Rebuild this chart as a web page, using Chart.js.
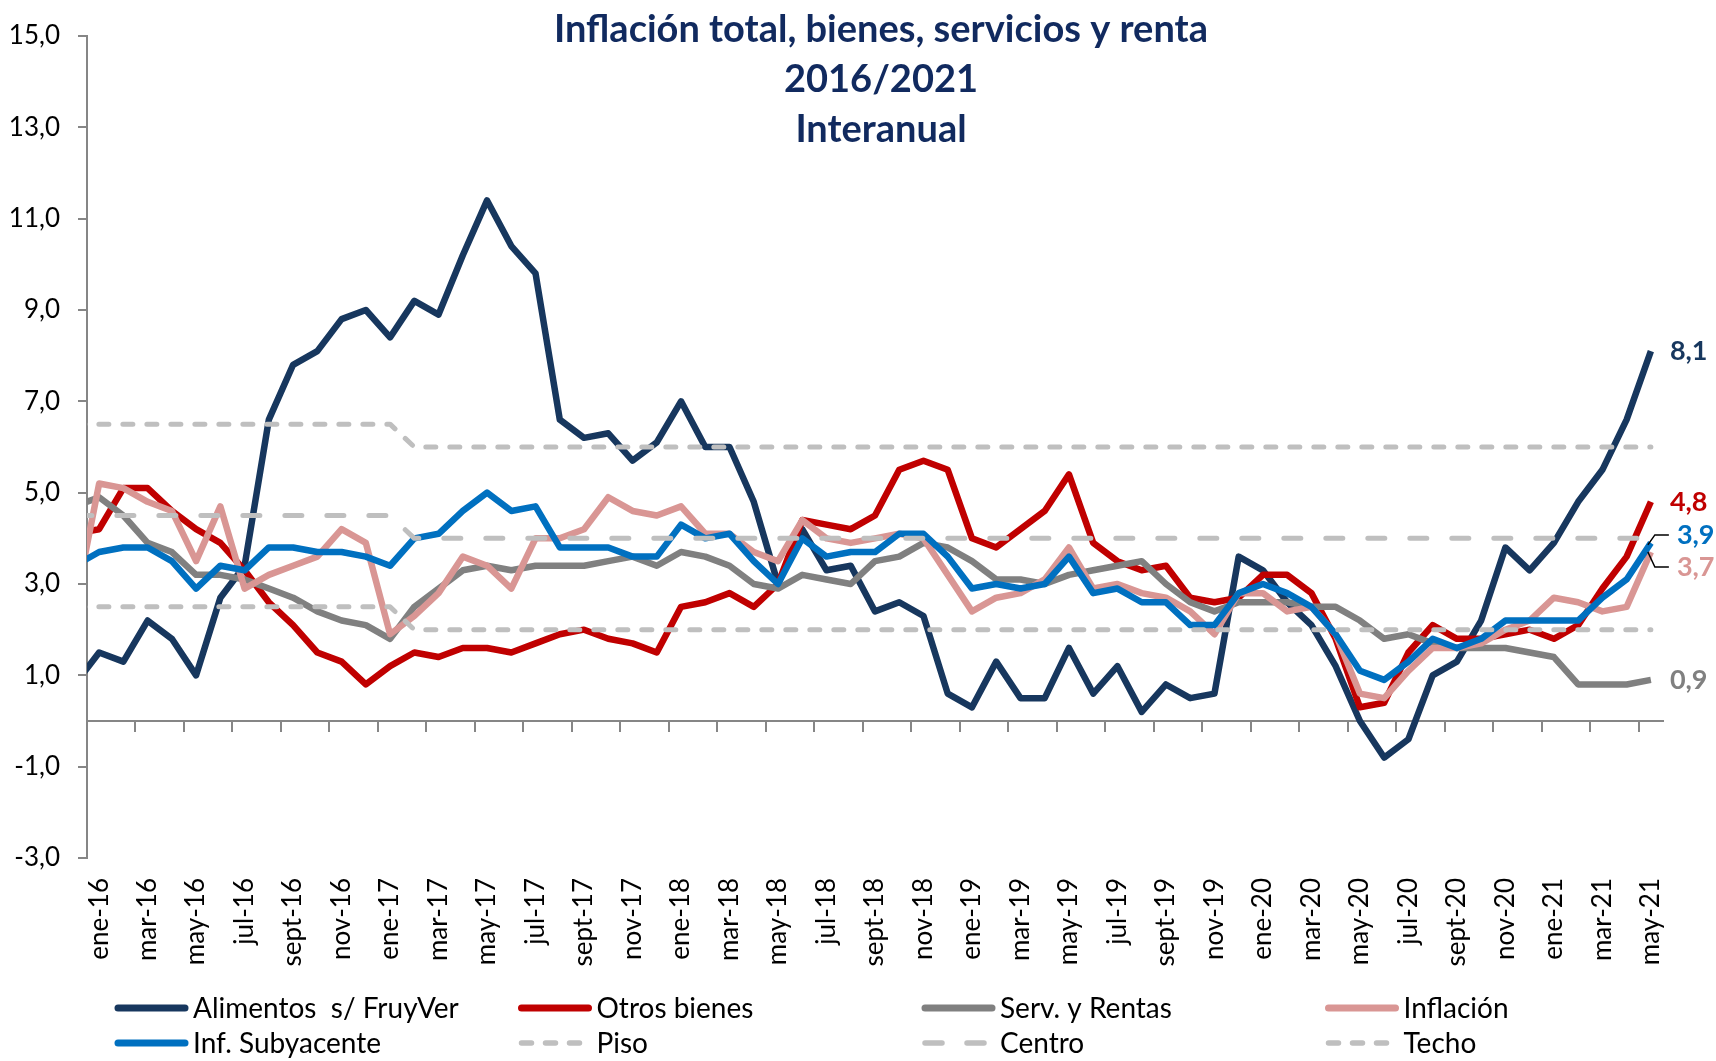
<!DOCTYPE html>
<html lang="es">
<head>
<meta charset="utf-8">
<title>Inflación total, bienes, servicios y renta</title>
<script src="https://cdn.jsdelivr.net/npm/chart.js@4.4.1/dist/chart.umd.min.js"></script>
<style>
  html, body { margin: 0; padding: 0; background: #fff; }
  #wrap { width: 1716px; height: 1061px; }
</style>
</head>
<body>
<div id="wrap"><canvas id="inflationChart" width="1716" height="1061"></canvas></div>
<script>
// Inflación interanual por componentes, ene-16 a may-21.
// dic-15 solo sirve para el tramo que entra desde el eje vertical.

const months = ['dic-15',
    'ene-16', 'feb-16', 'mar-16', 'abr-16', 'may-16', 'jun-16', 'jul-16', 'ago-16', 'sept-16', 'oct-16', 'nov-16', 'dic-16',
    'ene-17', 'feb-17', 'mar-17', 'abr-17', 'may-17', 'jun-17', 'jul-17', 'ago-17', 'sept-17', 'oct-17', 'nov-17', 'dic-17',
    'ene-18', 'feb-18', 'mar-18', 'abr-18', 'may-18', 'jun-18', 'jul-18', 'ago-18', 'sept-18', 'oct-18', 'nov-18', 'dic-18',
    'ene-19', 'feb-19', 'mar-19', 'abr-19', 'may-19', 'jun-19', 'jul-19', 'ago-19', 'sept-19', 'oct-19', 'nov-19', 'dic-19',
    'ene-20', 'feb-20', 'mar-20', 'abr-20', 'may-20', 'jun-20', 'jul-20', 'ago-20', 'sept-20', 'oct-20', 'nov-20', 'dic-20',
    'ene-21', 'feb-21', 'mar-21', 'abr-21', 'may-21'];

const alimentos = [0.8,
    1.5, 1.3, 2.2, 1.8, 1.0, 2.7, 3.4, 6.6, 7.8, 8.1, 8.8, 9.0,
    8.4, 9.2, 8.9, 10.2, 11.4, 10.4, 9.8, 6.6, 6.2, 6.3, 5.7, 6.1,
    7.0, 6.0, 6.0, 4.8, 3.0, 4.2, 3.3, 3.4, 2.4, 2.6, 2.3, 0.6,
    0.3, 1.3, 0.5, 0.5, 1.6, 0.6, 1.2, 0.2, 0.8, 0.5, 0.6, 3.6,
    3.3, 2.6, 2.1, 1.2, 0.0, -0.8, -0.4, 1.0, 1.3, 2.2, 3.8, 3.3,
    3.9, 4.8, 5.5, 6.6, 8.1];

const otrosBienes = [4.1,
    4.2, 5.1, 5.1, 4.6, 4.2, 3.9, 3.3, 2.6, 2.1, 1.5, 1.3, 0.8,
    1.2, 1.5, 1.4, 1.6, 1.6, 1.5, 1.7, 1.9, 2.0, 1.8, 1.7, 1.5,
    2.5, 2.6, 2.8, 2.5, 3.0, 4.4, 4.3, 4.2, 4.5, 5.5, 5.7, 5.5,
    4.0, 3.8, 4.2, 4.6, 5.4, 3.9, 3.5, 3.3, 3.4, 2.7, 2.6, 2.7,
    3.2, 3.2, 2.8, 1.8, 0.3, 0.4, 1.5, 2.1, 1.8, 1.8, 1.9, 2.0,
    1.8, 2.1, 2.9, 3.6, 4.8];

const servRentas = [4.7,
    4.9, 4.5, 3.9, 3.7, 3.2, 3.2, 3.1, 2.9, 2.7, 2.4, 2.2, 2.1,
    1.8, 2.5, 2.9, 3.3, 3.4, 3.3, 3.4, 3.4, 3.4, 3.5, 3.6, 3.4,
    3.7, 3.6, 3.4, 3.0, 2.9, 3.2, 3.1, 3.0, 3.5, 3.6, 3.9, 3.8,
    3.5, 3.1, 3.1, 3.0, 3.2, 3.3, 3.4, 3.5, 3.0, 2.6, 2.4, 2.6,
    2.6, 2.6, 2.5, 2.5, 2.2, 1.8, 1.9, 1.7, 1.6, 1.6, 1.6, 1.5,
    1.4, 0.8, 0.8, 0.8, 0.9];

const inflacion = [2.5,
    5.2, 5.1, 4.8, 4.6, 3.5, 4.7, 2.9, 3.2, 3.4, 3.6, 4.2, 3.9,
    1.9, 2.3, 2.8, 3.6, 3.4, 2.9, 4.0, 4.0, 4.2, 4.9, 4.6, 4.5,
    4.7, 4.1, 4.1, 3.7, 3.5, 4.4, 4.0, 3.9, 4.0, 4.1, 4.0, 3.2,
    2.4, 2.7, 2.8, 3.1, 3.8, 2.9, 3.0, 2.8, 2.7, 2.4, 1.9, 2.8,
    2.8, 2.4, 2.5, 1.9, 0.6, 0.5, 1.1, 1.6, 1.6, 1.7, 2.0, 2.2,
    2.7, 2.6, 2.4, 2.5, 3.7];

const subyacente = [3.4,
    3.7, 3.8, 3.8, 3.5, 2.9, 3.4, 3.3, 3.8, 3.8, 3.7, 3.7, 3.6,
    3.4, 4.0, 4.1, 4.6, 5.0, 4.6, 4.7, 3.8, 3.8, 3.8, 3.6, 3.6,
    4.3, 4.0, 4.1, 3.5, 3.0, 4.0, 3.6, 3.7, 3.7, 4.1, 4.1, 3.6,
    2.9, 3.0, 2.9, 3.0, 3.6, 2.8, 2.9, 2.6, 2.6, 2.1, 2.1, 2.8,
    3.0, 2.8, 2.5, 1.9, 1.1, 0.9, 1.3, 1.8, 1.6, 1.8, 2.2, 2.2,
    2.2, 2.2, 2.7, 3.1, 3.9];

// rango meta: hasta ene-17 4,5 +/- 2; desde feb-17 4,0 +/- 2
const piso = [2.5,
    2.5, 2.5, 2.5, 2.5, 2.5, 2.5, 2.5, 2.5, 2.5, 2.5, 2.5, 2.5,
    2.5, 2.0, 2.0, 2.0, 2.0, 2.0, 2.0, 2.0, 2.0, 2.0, 2.0, 2.0,
    2.0, 2.0, 2.0, 2.0, 2.0, 2.0, 2.0, 2.0, 2.0, 2.0, 2.0, 2.0,
    2.0, 2.0, 2.0, 2.0, 2.0, 2.0, 2.0, 2.0, 2.0, 2.0, 2.0, 2.0,
    2.0, 2.0, 2.0, 2.0, 2.0, 2.0, 2.0, 2.0, 2.0, 2.0, 2.0, 2.0,
    2.0, 2.0, 2.0, 2.0, 2.0];

const centro = [4.5,
    4.5, 4.5, 4.5, 4.5, 4.5, 4.5, 4.5, 4.5, 4.5, 4.5, 4.5, 4.5,
    4.5, 4.0, 4.0, 4.0, 4.0, 4.0, 4.0, 4.0, 4.0, 4.0, 4.0, 4.0,
    4.0, 4.0, 4.0, 4.0, 4.0, 4.0, 4.0, 4.0, 4.0, 4.0, 4.0, 4.0,
    4.0, 4.0, 4.0, 4.0, 4.0, 4.0, 4.0, 4.0, 4.0, 4.0, 4.0, 4.0,
    4.0, 4.0, 4.0, 4.0, 4.0, 4.0, 4.0, 4.0, 4.0, 4.0, 4.0, 4.0,
    4.0, 4.0, 4.0, 4.0, 4.0];

const techo = [6.5,
    6.5, 6.5, 6.5, 6.5, 6.5, 6.5, 6.5, 6.5, 6.5, 6.5, 6.5, 6.5,
    6.5, 6.0, 6.0, 6.0, 6.0, 6.0, 6.0, 6.0, 6.0, 6.0, 6.0, 6.0,
    6.0, 6.0, 6.0, 6.0, 6.0, 6.0, 6.0, 6.0, 6.0, 6.0, 6.0, 6.0,
    6.0, 6.0, 6.0, 6.0, 6.0, 6.0, 6.0, 6.0, 6.0, 6.0, 6.0, 6.0,
    6.0, 6.0, 6.0, 6.0, 6.0, 6.0, 6.0, 6.0, 6.0, 6.0, 6.0, 6.0,
    6.0, 6.0, 6.0, 6.0, 6.0];

const titleLines = ['Inflación total, bienes, servicios y renta', '2016/2021', 'Interanual'];

const FONT = 'Lato, "Open Sans", sans-serif';
const AXIS_GRAY = '#868686';
const NAVY = '#17375e';
const TITLE_BLUE = '#112a5f';
const SHORT_DASH = [10, 14];
const LONG_DASH = [17, 25];

Chart.defaults.font.family = FONT;

function serie(label, data, color, idx, dash) {
    return {
        label: label,
        data: data,
        borderColor: color,
        backgroundColor: color,
        borderWidth: dash ? 5 : 6.5,
        borderDash: dash || [],
        borderCapStyle: dash ? 'round' : 'butt',
        borderJoinStyle: 'round',
        pointRadius: 0,
        pointHoverRadius: 0,
        tension: 0,
        order: 10 - idx   // later series on top, like the original
    };
}

const datasets = [
    serie('Alimentos  s/ FruyVer', alimentos, NAVY, 0),
    serie('Otros bienes', otrosBienes, '#c00000', 1),
    serie('Serv. y Rentas', servRentas, '#808080', 2),
    serie('Inflación', inflacion, '#d99694', 3),
    serie('Inf. Subyacente', subyacente, '#0070c0', 4),
    serie('Piso', piso, '#bfbfbf', 5, SHORT_DASH),
    serie('Centro', centro, '#bfbfbf', 6, LONG_DASH),
    serie('Techo', techo, '#bfbfbf', 7, SHORT_DASH)
];

// value labels at the end of the series (dataset index, vertical shift, bracket)
const endLabels = [
    { ds: 0, dy: 0 },
    { ds: 1, dy: 0 },
    { ds: 4, dy: -8, leader: true },
    { ds: 3, dy: 15, leader: true },
    { ds: 2, dy: 0 }
];

const titlePlugin = {
    id: 'overTitle',
    afterDraw(chart) {
        const { ctx, chartArea } = chart;
        const cx = (chartArea.left + chartArea.right) / 2 + 6;
        ctx.save();
        ctx.fillStyle = TITLE_BLUE;
        ctx.font = 'bold 38px ' + FONT;
        ctx.textAlign = 'center';
        ctx.textBaseline = 'middle';
        titleLines.forEach((t, i) => ctx.fillText(t, cx, 30 + i * 50));
        ctx.restore();
    }
};

const endLabelPlugin = {
    id: 'endLabels',
    afterDatasetsDraw(chart) {
        const ctx = chart.ctx;
        ctx.save();
        ctx.font = 'bold 27px ' + FONT;
        ctx.textBaseline = 'middle';
        ctx.textAlign = 'left';
        endLabels.forEach(lb => {
            const ds = chart.data.datasets[lb.ds];
            const pts = chart.getDatasetMeta(lb.ds).data;
            const pt = pts[pts.length - 1];
            const val = ds.data[ds.data.length - 1];
            const y = pt.y + lb.dy;
            let x = pt.x + 19;
            if (lb.leader) {
                ctx.strokeStyle = '#000';
                ctx.lineWidth = 1.5;
                ctx.beginPath();
                ctx.moveTo(pt.x - 3, pt.y + (lb.dy < 0 ? 2 : 0));
                ctx.lineTo(pt.x + 4, y);
                ctx.lineTo(pt.x + 18, y);
                ctx.stroke();
                x = pt.x + 26;
            }
            ctx.fillStyle = ds.borderColor;
            ctx.fillText(val.toFixed(1).replace('.', ','), x, y);
        });
        ctx.restore();
    }
};

const legendPlugin = {
    id: 'gridLegend',
    afterDraw(chart) {
        const ctx = chart.ctx;
        chart.data.datasets.forEach((ds, i) => {
            const x = 115 + (i % 4) * 403.5;
            const y = 1008 + Math.floor(i / 4) * 35;
            ctx.save();
            ctx.strokeStyle = ds.borderColor;
            ctx.lineWidth = ds.borderDash.length ? 5.5 : 7;
            ctx.lineCap = 'round';
            ctx.setLineDash(ds.borderDash);
            ctx.beginPath();
            ctx.moveTo(x + 3, y);
            ctx.lineTo(x + 70, y);
            ctx.stroke();
            ctx.setLineDash([]);
            ctx.fillStyle = '#000';
            ctx.font = '28px ' + FONT;
            ctx.textBaseline = 'middle';
            ctx.fillText(ds.label, x + 78, y + 1);
            ctx.restore();
        });
    }
};

new Chart(document.getElementById('inflationChart'), {
    type: 'line',
    data: {
        labels: months,
        datasets: datasets
    },
    options: {
        responsive: false,
        animation: false,
        events: [],
        layout: {
            padding: { top: 36, right: 53, bottom: 0, left: 0 }
        },
        plugins: {
            legend: { display: false },
            title: { display: false },
            tooltip: { enabled: false }
        },
        scales: {
            x: {
                type: 'category',
                min: months[1],
                offset: true,
                grid: { display: false, drawTicks: false },
                border: { display: false },
                ticks: {
                    autoSkip: false,
                    minRotation: 90,
                    maxRotation: 90,
                    padding: 20,
                    color: '#000',
                    font: { size: 26 },
                    callback(value) {
                        return (value - 1) % 2 === 0 ? this.getLabelForValue(value) : '';
                    }
                },
                afterFit(scale) { scale.height = 203; }
            },
            xZero: {
                type: 'category',
                axis: 'x',
                min: months[1],
                offset: true,
                position: { y: 0 },
                ticks: { display: false },
                grid: {
                    offset: true,
                    drawOnChartArea: false,
                    tickLength: 10,
                    lineWidth: 2,
                    color: ctx => ctx.index % 2 === 0 ? AXIS_GRAY : 'rgba(0,0,0,0)'
                },
                border: { color: AXIS_GRAY, width: 2 }
            },
            y: {
                min: -3,
                max: 15,
                ticks: {
                    stepSize: 2,
                    padding: 18,
                    color: '#000',
                    font: { size: 26 },
                    callback: v => v.toFixed(1).replace('.', ',')
                },
                grid: { drawOnChartArea: false, tickLength: 9, color: AXIS_GRAY, lineWidth: 2 },
                border: { color: AXIS_GRAY, width: 2 },
                afterFit(scale) { scale.width = 87; }
            }
        }
    },
    plugins: [endLabelPlugin, titlePlugin, legendPlugin]
});
</script>
</body>
</html>
